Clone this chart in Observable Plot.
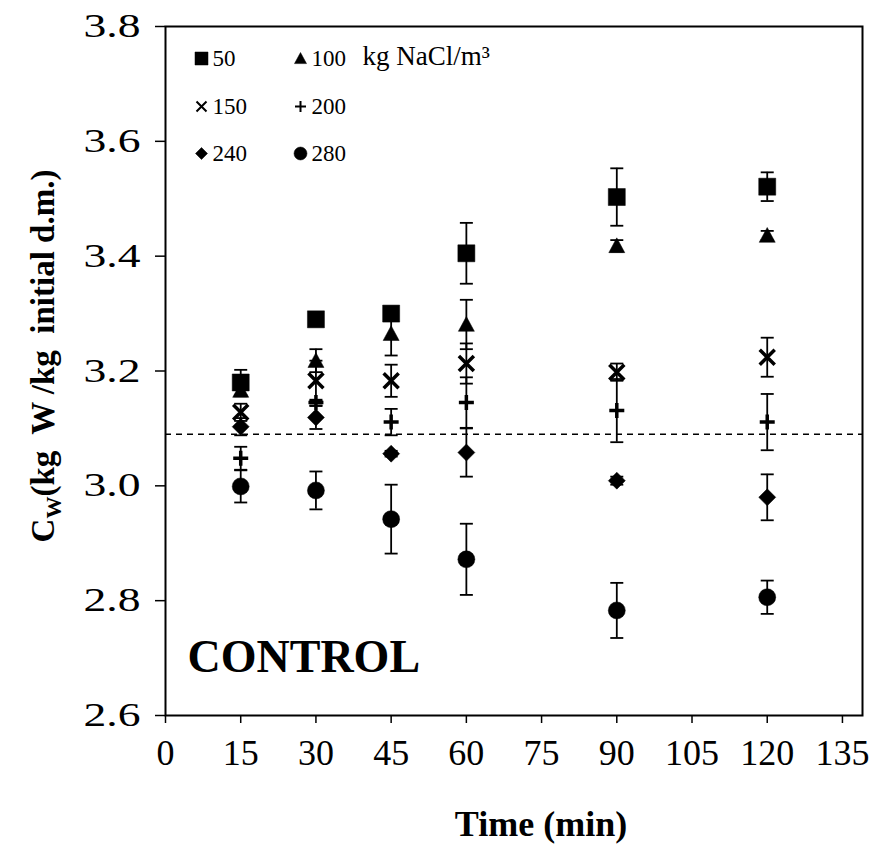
<!DOCTYPE html>
<html><head><meta charset="utf-8">
<script src="https://cdn.jsdelivr.net/npm/d3@7"></script>
<script src="https://cdn.jsdelivr.net/npm/@observablehq/plot@0.6"></script>
<style>body{margin:0;background:#fff} #chart{width:877px;height:851px}</style>
</head><body><div id="chart"></div>
<script>
// ---- data ----
const times = [15, 30, 45, 60, 90, 120];
const concentrations = [50, 100, 150, 200, 240, 280];
const cw50  = [3.180, 3.290, 3.300, 3.405, 3.503, 3.521];
const err50 = [0.022, 0.005, 0.005, 0.053, 0.050, 0.025];
const cw100  = [3.166, 3.218, 3.265, 3.281, 3.418, 3.436];
const err100 = [0.010, 0.020, 0.038, 0.043, 0.010, 0.008];
const cw150  = [3.128, 3.183, 3.183, 3.213, 3.198, 3.224];
const err150 = [0.015, 0.035, 0.028, 0.035, 0.015, 0.034];
const cw200  = [3.048, 3.145, 3.111, 3.145, 3.131, 3.111];
const err200 = [0.020, 0.005, 0.023, 0.044, 0.055, 0.049];
const cw240  = [3.103, 3.119, 3.056, 3.058, 3.009, 2.980];
const err240 = [0.015, 0.020, 0.005, 0.042, 0.007, 0.040];
const cw280  = [2.999, 2.992, 2.942, 2.872, 2.783, 2.806];
const err280 = [0.028, 0.033, 0.060, 0.062, 0.048, 0.029];
const baseline = 3.09;
const xTicks = [0, 15, 30, 45, 60, 75, 90, 105, 120, 135];
const yTicks = [2.6, 2.8, 3.0, 3.2, 3.4, 3.6, 3.8];
const legendLabels = ["50", "100", "150", "200", "240", "280"];
const unitLabel = "kg NaCl/m³";
const panelLabel = "CONTROL";

// ---- symbols ----
const rad = s => Math.sqrt(s / Math.PI);
const sym = {
  square: {draw(c, s){ const r = rad(s); c.rect(-r, -r, 2*r, 2*r); }},
  triangle: {draw(c, s){ const r = rad(s); c.moveTo(0, -r); c.lineTo(r, r*0.85); c.lineTo(-r, r*0.85); c.closePath(); }},
  times: {draw(c, s){ const r = rad(s); c.moveTo(-r, -r); c.lineTo(r, r); c.moveTo(r, -r); c.lineTo(-r, r); }},
  plus: {draw(c, s){ const r = rad(s); c.moveTo(-r, 0); c.lineTo(r, 0); c.moveTo(0, -r); c.lineTo(0, r); }},
  diamond: {draw(c, s){ const r = rad(s); c.moveTo(0, -r); c.lineTo(r, 0); c.lineTo(0, r); c.lineTo(-r, 0); c.closePath(); }},
  circle: {draw(c, s){ const r = rad(s); c.moveTo(r, 0); c.arc(0, 0, r, 0, 2*Math.PI); }},
  cap: {draw(c, s){ const r = rad(s); c.moveTo(-r, 0); c.lineTo(r, 0); }}
};
const seriesValues = [cw50, cw100, cw150, cw200, cw240, cw280];
const seriesErrors = [err50, err100, err150, err200, err240, err280];
const style = [
  {symbol: sym.square, r: 8.5, filled: true, lr: 6.5},
  {symbol: sym.triangle, r: 8, filled: true, lr: 6},
  {symbol: sym.times, r: 7.5, filled: false, lr: 5},
  {symbol: sym.plus, r: 7.5, filled: false, lr: 5.5},
  {symbol: sym.diamond, r: 8.5, filled: true, lr: 6},
  {symbol: sym.circle, r: 8.5, filled: true, lr: 6.5}
];

const rows = [];
concentrations.forEach((c, i) => times.forEach((t, j) =>
  rows.push({series: i, conc: c, t, v: seriesValues[i][j], e: seriesErrors[i][j]})));

const markerMarks = style.map((st, i) => Plot.dot(rows.filter(d => d.series === i), {
  x: "t", y: "v", symbol: st.symbol, r: st.r,
  fill: st.filled ? "black" : "none", stroke: "black",
  strokeWidth: st.filled ? 0.5 : 3.5
}));

// legend (positions are layout offsets from the frame's top-left corner)
const legendPos = [[36, 32], [135, 32], [36, 80], [135, 80], [36, 127], [135, 127]];
const legendMarks = [];
style.forEach((st, i) => {
  const [dx, dy] = legendPos[i];
  legendMarks.push(Plot.dot([legendLabels[i]], {frameAnchor: "top-left", dx, dy, symbol: st.symbol, r: st.lr,
    fill: st.filled ? "black" : "none", stroke: "black", strokeWidth: st.filled ? 0.5 : 2}));
  legendMarks.push(Plot.text([legendLabels[i]], {frameAnchor: "top-left", dx: dx + 11, dy, text: d => d,
    textAnchor: "start", lineAnchor: "middle", fontSize: 23}));
});
legendMarks.push(Plot.text([unitLabel], {frameAnchor: "top-left", dx: 197, dy: 30, text: d => d,
  textAnchor: "start", lineAnchor: "middle", fontSize: 27}));

const plot = Plot.plot({
  width: 877, height: 851,
  marginLeft: 165, marginRight: 15, marginTop: 26, marginBottom: 136,
  style: {fontFamily: "'Liberation Serif', 'Times New Roman', serif", color: "black", background: "white"},
  x: {domain: [0, 139]},
  y: {domain: [2.6, 3.8]},
  marks: [
    Plot.axisX({ticks: xTicks, tickSize: 8, tickPadding: 16, fontSize: 36, label: null, strokeWidth: 1.5}),
    Plot.axisY({ticks: yTicks, tickFormat: d3.format(".1f"), tickSize: 10, tickPadding: 15, fontSize: 33, label: null, strokeWidth: 1.5}),
    Plot.ruleY([baseline], {stroke: "black", strokeWidth: 1.5, strokeDasharray: "6,5"}),
    Plot.ruleX(rows, {x: "t", y1: d => d.v - d.e, y2: d => d.v + d.e, stroke: "black", strokeWidth: 1.8}),
    Plot.dot(rows, {x: "t", y: d => d.v + d.e, symbol: sym.cap, r: 6.5, stroke: "black", fill: "none", strokeWidth: 1.8}),
    Plot.dot(rows, {x: "t", y: d => d.v - d.e, symbol: sym.cap, r: 6.5, stroke: "black", fill: "none", strokeWidth: 1.8}),
    ...markerMarks,
    ...legendMarks,
    Plot.text([panelLabel], {frameAnchor: "bottom-left", dx: 22, dy: -58, text: d => d, textAnchor: "start",
      lineAnchor: "middle", fontSize: 46, fontWeight: "bold"}),
    Plot.frame({stroke: "black", strokeWidth: 2})
  ]
});
document.getElementById("chart").appendChild(plot);

const svg = d3.select(plot);
// widen the y tick labels as in the reference
svg.selectAll("g[aria-label='y-axis tick label'] text")
  .attr("textLength", 57).attr("lengthAdjust", "spacingAndGlyphs");

// axis titles with subscript
const yl = svg.append("text")
  .attr("transform", "translate(54,356) rotate(-90)")
  .attr("text-anchor", "middle").attr("font-weight", "bold").attr("font-size", 33)
  .attr("font-family", "'Liberation Serif', serif").attr("fill", "black")
  .style("white-space", "pre");
yl.append("tspan").text("C");
yl.append("tspan").attr("font-size", 22).attr("dy", 7).text("W");
yl.append("tspan").attr("dy", -7).text("(kg  W /kg  initial d.m.)");
svg.append("text")
  .attr("x", 541).attr("y", 828).attr("text-anchor", "middle").attr("dominant-baseline", "middle")
  .attr("font-weight", "bold").attr("font-size", 36)
  .attr("font-family", "'Liberation Serif', serif").attr("fill", "black")
  .style("white-space", "pre")
  .text("Time (min)");
</script></body></html>
